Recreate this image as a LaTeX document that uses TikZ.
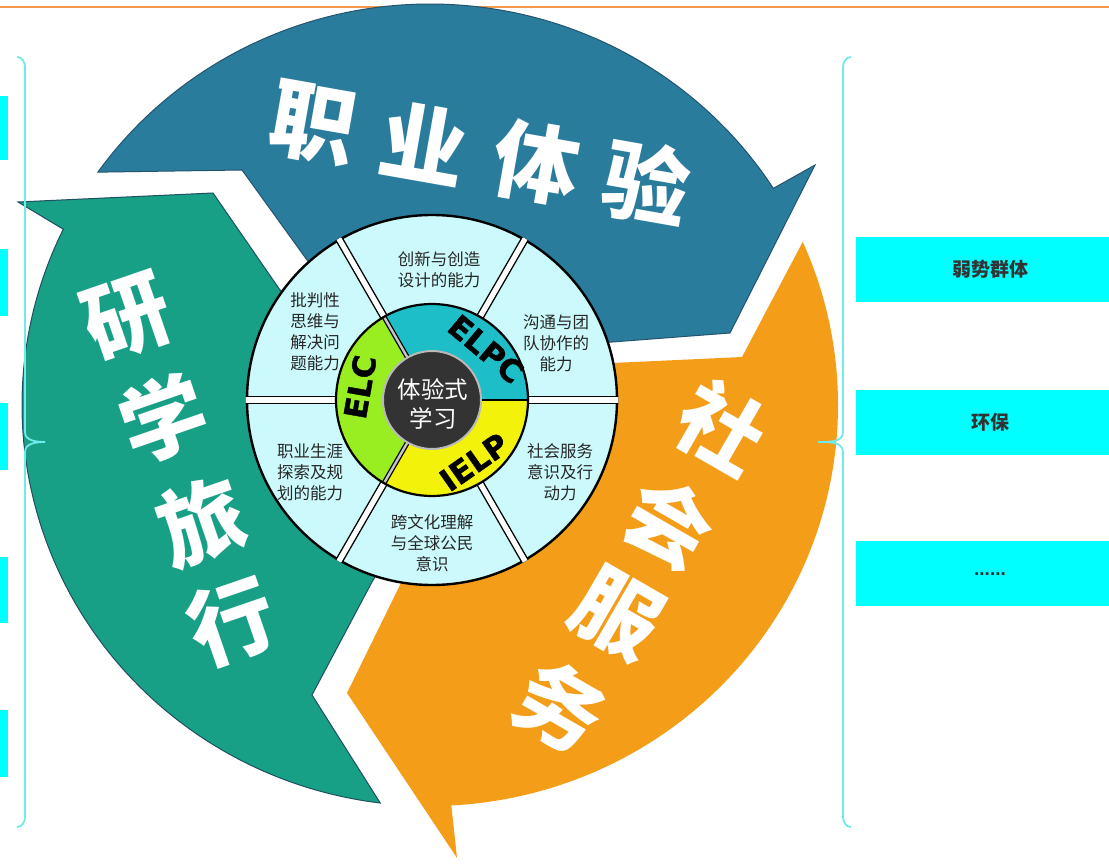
\documentclass[tikz,border=0pt]{standalone}
\usepackage{fontspec}
\newfontfamily\cjk{Noto Sans CJK SC}
\newfontfamily\heavy{DejaVu Sans}[BoldFeatures={FakeBold=1.2}]
\newfontfamily\libsans{Liberation Sans}
\definecolor{blueA}{HTML}{2A7C9C}
\definecolor{blueD}{HTML}{24546E}
\definecolor{greenA}{HTML}{17A086}
\definecolor{greenD}{HTML}{1F5060}
\definecolor{orangeA}{HTML}{F39D19}
\definecolor{segfill}{HTML}{CCFAFC}
\definecolor{elccol}{HTML}{99EE22}
\definecolor{elpccol}{HTML}{1EBEC8}
\definecolor{ielpcol}{HTML}{F2F20A}
\definecolor{darkc}{HTML}{333333}
\definecolor{cyanbox}{HTML}{00FFFF}
\definecolor{bracecol}{HTML}{70EAEA}
\definecolor{topline}{HTML}{F29A4E}
\definecolor{segtxt}{HTML}{262626}
\begin{document}
\begin{tikzpicture}[x=1pt,y=1pt,
  bigchar/.style={font=\cjk\bfseries\fontsize{86}{86}\selectfont, text=white, inner sep=0pt},
  segtext/.style={font=\cjk\fontsize{16.5}{21}\selectfont, text=segtxt, align=center, inner sep=0pt},
  ringlbl/.style={font=\heavy\bfseries\fontsize{31}{31}\selectfont, text=black, inner sep=0pt},
  rbox/.style={fill=cyanbox, draw=none, minimum width=268pt, minimum height=65pt, inner sep=0pt,
               font=\cjk\bfseries\fontsize{19}{19}\selectfont, text=darkc},
  lbox/.style={fill=cyanbox, draw=none},
  bracestyle/.style={draw=bracecol, line width=1.8pt},
  gapblack/.style={draw=black, line width=8pt},
  gapwhite/.style={draw=white, line width=5.2pt}
]
\useasboundingbox (0,0) rectangle (1109,863);
\fill[white] (0,0) rectangle (1109,863);

% top line
\draw[topline, line width=2.8pt] (0,856) -- (1109,856);

% arrows
\begin{scope}[shift={(430,458)}]
  \fill[blueA, draw=blueD, line width=1pt] (0,0) -- (-90,100) -- (-123,145) -- (-188,235) --
    (144.5:408 and 401) arc[start angle=144.5, end angle=32.7, x radius=408, y radius=401] --
    (385,240) -- (300,72) -- (130,59) -- cycle;
  \fill[orangeA] (0,0) -- (130,37) -- (183,42) -- (312,48) --
    (24:408 and 401) arc[start angle=24, end angle=-87, x radius=408, y radius=401] --
    (27,-453) -- (-83,-288) -- (-30,-180) -- (-20,-155) -- cycle;
  \fill[greenA, draw=greenD, line width=1pt] (0,0) -- (-45,-155) -- (-58,-177) -- (-118,-290) --
    (263:408 and 401) arc[start angle=263, end angle=154, x radius=408, y radius=401] --
    (-412,203) -- (-217,212) -- (-150,115) -- (-110,85) -- cycle;
\end{scope}

% big words
\node[bigchar, rotate=-10] (b1) at (313,740) {职};
\node[bigchar, rotate=-10] (b2) at (424,720) {业};
\node[bigchar, rotate=-10] (b3) at (536,700) {体};
\node[bigchar, rotate=-10] (b4) at (647,680) {验};
\node[bigchar, rotate=19] (g1) at (127,545) {研};
\node[bigchar, rotate=19] (g2) at (163,445) {学};
\node[bigchar, rotate=19] (g3) at (202,341) {旅};
\node[bigchar, rotate=19] (g4) at (232,241) {行};
\node[bigchar, rotate=-30] (o1) at (722,436) {社};
\node[bigchar, rotate=-30] (o2) at (669,341) {会};
\node[bigchar, rotate=-30] (o3) at (617,249) {服};
\node[bigchar, rotate=-30] (o4) at (560,156) {务};

% wheel
\coordinate (WC) at (432,463);
\begin{scope}[shift={(WC)}]
  \filldraw[fill=segfill, draw=black, line width=2.4pt] (0,0) circle (185);
  \begin{scope}
    \clip (0,0) circle (186.3);
    \foreach \a in {0,60,...,300} {
      \draw[gapblack] (\a:95) -- (\a:195);
      \draw[gapwhite] (\a:93) -- (\a:195);
    }
  \end{scope}
  \fill[elpccol] (0,0) -- (0:96) arc[start angle=0, end angle=120, radius=96] -- cycle;
  \fill[elccol] (0,0) -- (120:96) arc[start angle=120, end angle=240, radius=96] -- cycle;
  \fill[ielpcol] (0,0) -- (240:96) arc[start angle=240, end angle=360, radius=96] -- cycle;
  \draw[black, line width=2.5pt] (0:45) -- (0:96);
  \foreach \a in {120,240} {
    \draw[black, line width=5pt] (\a:45) -- (\a:96);
    \draw[gray!45, line width=2.4pt] (\a:45) -- (\a:96);
  }
  \draw[black, line width=2.2pt] (0,0) circle (96);
  \filldraw[fill=darkc, draw=gray!55, line width=2pt] (0,0) circle (49);
\end{scope}

\node[font=\cjk\fontsize{23.5}{29}\selectfont, text=white, align=center, inner sep=0pt] (ctr) at (433,459) {体验式\\学习};

\node[ringlbl, rotate=80] (elc) at (360,476) {ELC};
\node[ringlbl, rotate=-40] (elpc) at (486,514) {ELPC};
\node[ringlbl, rotate=35] (ielp) at (474,401) {IELP};

\node[segtext] (s1) at (439,593) {创新与创造\\设计的能力};
\node[segtext] (s2) at (315,531) {批判性\\思维与\\解决问\\题能力};
\node[segtext] (s3) at (556,520) {沟通与团\\队协作的\\能力};
\node[segtext] (s4) at (310,391) {职业生涯\\探索及规\\划的能力};
\node[segtext] (s5) at (560,391) {社会服务\\意识及行\\动力};
\node[segtext] (s6) at (432,320) {跨文化理解\\与全球公民\\意识};

% right boxes
\node[rbox] (r1) at (990,593.5) {弱势群体};
\node[rbox] (r2) at (990,440.5) {环保};
\node[rbox, font=\libsans\bfseries\fontsize{19}{19}\selectfont] (r3) at (990,289) {......};

% left boxes
\fill[lbox] (-2,703) rectangle (8,767);
\fill[lbox] (-2,547) rectangle (8,614);
\fill[lbox] (-2,393) rectangle (8,460);
\fill[lbox] (-2,240) rectangle (8,306);
\fill[lbox] (-2,86) rectangle (8,153);

% braces
\draw[bracestyle] (17,806) to[out=0,in=90] (25,796) -- (25,431) to[out=-90,in=180] (45,421)
   to[out=180,in=90] (25,411) -- (25,46) to[out=-90,in=0] (17,36);
\draw[bracestyle] (851,806) to[out=180,in=90] (843,796) -- (843,431) to[out=-90,in=0] (818,421)
   to[out=0,in=90] (843,411) -- (843,46) to[out=-90,in=180] (851,36);
\end{tikzpicture}
\end{document}
